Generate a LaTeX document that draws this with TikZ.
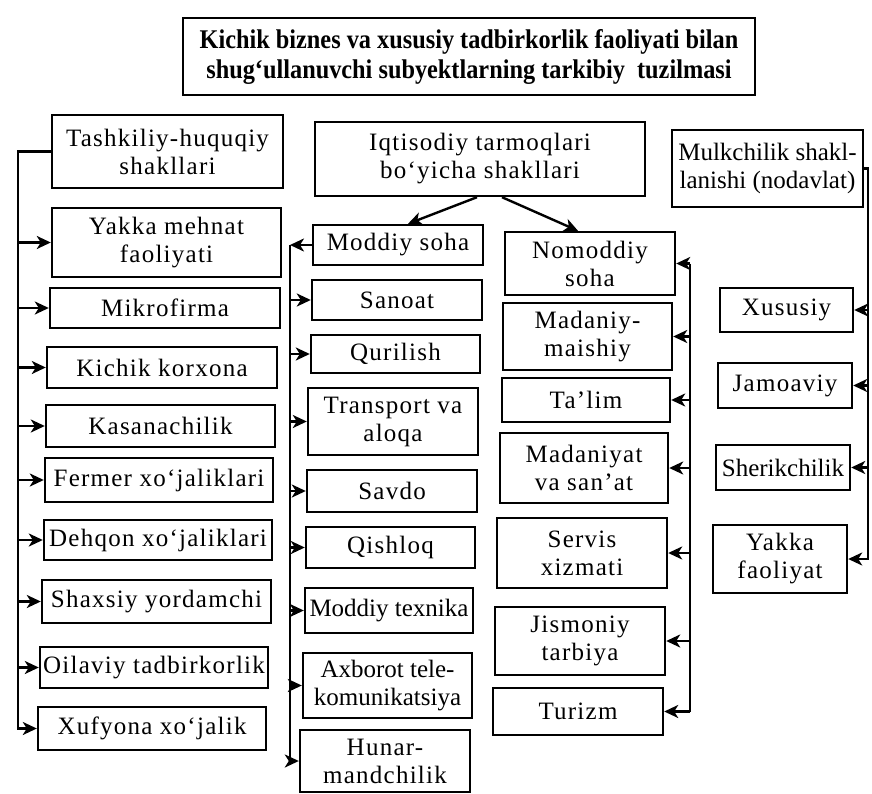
\documentclass[tikz,border=0pt]{standalone}
\usepackage{fontspec}
\setmainfont{Liberation Serif}[LetterSpace=5]
\newfontfamily\titlefont{Liberation Serif}[FakeStretch=0.9]
\usetikzlibrary{arrows.meta}
\tikzset{
  box/.style={draw, line width=2.4pt, inner sep=1pt, align=center, font=\fontsize{25}{28}\selectfont},
  tightbox/.style={box, font=\fontsize{25}{28}\selectfont\addfontfeature{LetterSpace=0}},
  titlebox/.style={draw, line width=2.4pt, inner sep=1pt, align=center, font=\titlefont\bfseries\fontsize{27}{30}\selectfont},
  arr/.style={line width=2.4pt, -{Stealth[length=14pt,width=13pt,inset=4pt]}},
  ln/.style={line width=2.4pt},
}
\newcommand\bx[7][box]{\node[#1, minimum width={(#5-#3)*1pt}, minimum height={(#6-#4)*1pt}] (#2) at ({(#3+#5)/2},{(#4+#6)/2}) {#7};}
\begin{document}
\begin{tikzpicture}[x=1pt,y=-1pt]
\fill[white] (0,0) rectangle (872,794);
\useasboundingbox (0,0) rectangle (872,794);

\bx[titlebox]{title}{183}{18}{755}{95}{Kichik biznes va xususiy tadbirkorlik faoliyati bilan\\shug‘ullanuvchi subyektlarning tarkibiy\ \ tuzilmasi}

% left column
\bx{tash}{52}{115}{283}{188}{Tashkiliy-huquqiy\\shakllari}
\bx{yakka}{52}{208}{281}{277}{Yakka mehnat\\faoliyati}
\bx{mikro}{50}{288}{280}{328}{Mikrofirma}
\bx{kichik}{47}{347}{277}{388}{Kichik korxona}
\bx{kasana}{46}{405}{275}{447}{Kasanachilik}
\bx{fermer}{45}{458}{273}{502}{Fermer xo‘jaliklari}
\bx{dehqon}{44}{520}{272}{560}{Dehqon xo‘jaliklari}
\bx{shaxsiy}{42}{580}{271}{623}{Shaxsiy yordamchi}
\bx{oilaviy}{40}{647}{268}{688}{Oilaviy tadbirkorlik}
\bx{xufyona}{38}{707}{266}{750}{Xufyona xo‘jalik}

% middle column
\bx{iqt}{315}{122}{645}{196}{Iqtisodiy tarmoqlari\\bo‘yicha shakllari}
\bx{moddiy}{313}{225}{483}{265}{Moddiy soha}
\bx{sanoat}{312}{280}{482}{320}{Sanoat}
\bx{qurilish}{311}{335}{480}{373}{Qurilish}
\bx{transport}{308}{388}{478}{455}{Transport va\\aloqa}
\bx{savdo}{307}{470}{477}{512}{Savdo}
\bx{qishloq}{306}{527}{475}{568}{Qishloq}
\bx[tightbox]{mtex}{305}{588}{473}{633}{Moddiy texnika}
\bx[tightbox]{axborot}{303}{653}{472}{718}{Axborot tele-\\komunikatsiya}
\bx{hunar}{300}{730}{470}{792}{Hunar-\\mandchilik}

% non-material column
\bx{nomod}{505}{232}{675}{295}{Nomoddiy\\soha}
\bx{madm}{503}{303}{672}{370}{Madaniy-\\maishiy}
\bx{talim}{502}{378}{670}{422}{Ta’lim}
\bx{madsan}{500}{433}{668}{503}{Madaniyat\\va san’at}
\bx{servis}{497}{518}{667}{588}{Servis\\xizmati}
\bx{jism}{495}{607}{665}{675}{Jismoniy\\tarbiya}
\bx{turizm}{493}{688}{663}{735}{Turizm}

% ownership column
\bx[tightbox]{mulk}{672}{130}{863}{207}{Mulkchilik shakl-\\lanishi (nodavlat)}
\bx{xus}{720}{288}{853}{332}{Xususiy}
\bx{jam}{718}{363}{852}{408}{Jamoaviy}
\bx[tightbox]{sher}{716}{445}{850}{490}{Sherikchilik}
\bx{yakf}{713}{525}{847}{593}{Yakka\\faoliyat}

% left trunk
\coordinate (lx) at (18,0);
\draw[arr] (tash.west) -- (tash.west -| lx) -- (xufyona.west -| lx) -- (xufyona.west);
\foreach \n in {yakka,mikro,kichik,kasana,fermer,dehqon,shaxsiy,oilaviy}
  \draw[arr] (\n.west -| lx) -- (\n.west);

% iqtisodiy arrows
\draw[arr] ([xshift=-3pt]iqt.south) -- ([xshift=10pt]moddiy.north);
\draw[arr] ([xshift=22pt]iqt.south) -- ([xshift=-12pt]nomod.north);

% middle trunk
\coordinate (mx) at (290,0);
\draw[arr] (moddiy.west) -- (moddiy.west -| mx);
\draw[arr] (moddiy.west -| mx) -- (hunar.west -| mx) -- (hunar.west);
\foreach \n in {sanoat,qurilish,transport,savdo,qishloq,mtex,axborot}
  \draw[arr] (\n.west -| mx) -- (\n.west);

% non-material trunk
\coordinate (nx) at (690,0);
\draw[ln] (nomod.east -| nx) -- (turizm.east -| nx);
\foreach \n in {nomod,madm,talim,madsan,servis,jism,turizm}
  \draw[arr] (\n.east -| nx) -- (\n.east);

% ownership trunk
\coordinate (rx) at (868,0);
\draw[arr] (mulk.east) -- (mulk.east -| rx) -- (yakf.east -| rx) -- (yakf.east);
\foreach \n in {xus,jam,sher}
  \draw[arr] (\n.east -| rx) -- (\n.east);
\end{tikzpicture}
\end{document}
